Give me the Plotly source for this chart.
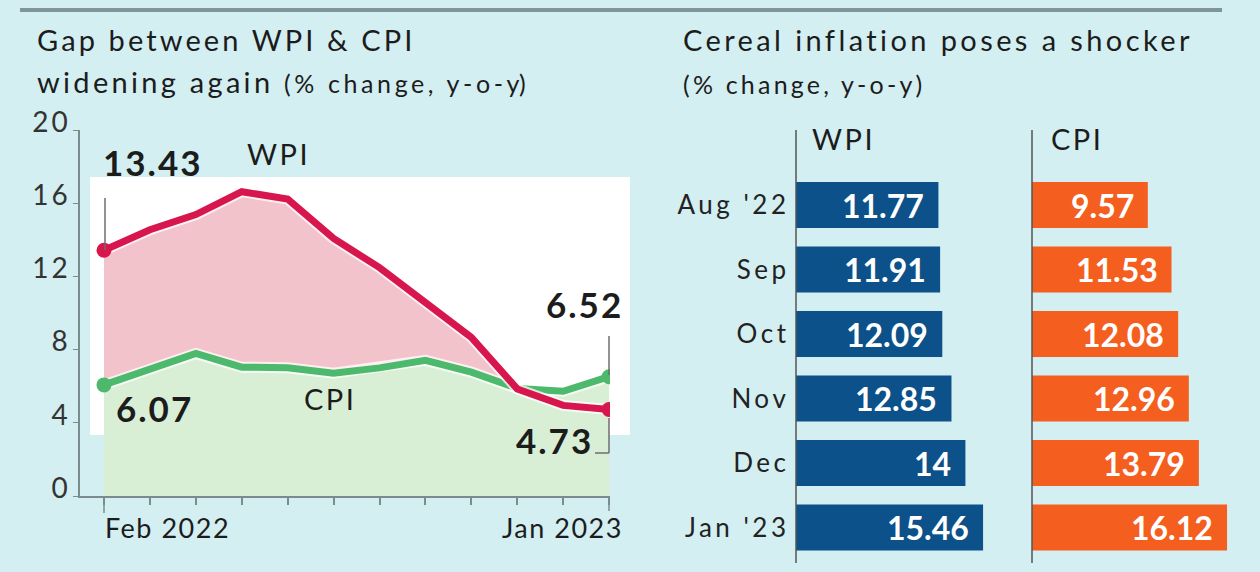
import plotly.graph_objects as go

# ---------------- data ----------------
months = ["Feb 2022", "Mar 2022", "Apr 2022", "May 2022", "Jun 2022", "Jul 2022",
          "Aug 2022", "Sep 2022", "Oct 2022", "Nov 2022", "Dec 2022", "Jan 2023"]
wpi = [13.43, 14.55, 15.38, 16.63, 16.23, 14.07, 12.48, 10.55, 8.67, 5.85, 4.95, 4.73]
cpi = [6.07, 6.95, 7.79, 7.04, 7.01, 6.71, 7.00, 7.41, 6.77, 5.88, 5.72, 6.52]
y_ticks = [0, 4, 8, 12, 16, 20]

bar_cats = ["Aug '22", "Sep", "Oct", "Nov", "Dec", "Jan '23"]
cereal_wpi = [11.77, 11.91, 12.09, 12.85, 14.00, 15.46]
cereal_cpi = [9.57, 11.53, 12.08, 12.96, 13.79, 16.12]
cereal_wpi_lbl = ["11.77", "11.91", "12.09", "12.85", "14", "15.46"]
cereal_cpi_lbl = ["9.57", "11.53", "12.08", "12.96", "13.79", "16.12"]

# ---------------- styling ----------------
W, H = 1260, 572
FONT = "Lato"
BG = "#d3eff2"
PINK = "#f2c3cb"
GREEN_FILL = "#d9efd5"
WPI_C = "#d8164e"
CPI_C = "#4cb96c"
NAVY = "#0c5189"
ORANGE = "#f45e1e"
TXT = "#1c1c1c"
AX = "#7a8c8e"


def px(x):
    return x / W


def py(y):
    return 1 - y / H


def sp(text, ls):
    # letter-spacing on every character but the last (no trailing gap)
    return "<span style='letter-spacing:%spx'>%s</span>%s" % (ls, text[:-1], text[-1])


fig = go.Figure()

# left chart: fills
fig.add_trace(go.Scatter(x=months, y=wpi, mode="lines", fill="tozeroy",
                         fillcolor=PINK, line=dict(width=0), hoverinfo="skip",
                         xaxis="x", yaxis="y", showlegend=False))
fig.add_trace(go.Scatter(x=months, y=cpi, mode="lines", fill="tozeroy",
                         fillcolor=GREEN_FILL, line=dict(width=0), hoverinfo="skip",
                         xaxis="x", yaxis="y", showlegend=False))
# lines with light glow
fig.add_trace(go.Scatter(x=months, y=cpi, mode="lines",
                         line=dict(color="rgba(255,255,255,0.75)", width=11),
                         xaxis="x", yaxis="y", showlegend=False, hoverinfo="skip"))
fig.add_trace(go.Scatter(x=months, y=cpi, mode="lines",
                         line=dict(color=CPI_C, width=7),
                         xaxis="x", yaxis="y", showlegend=False, name="CPI"))
fig.add_trace(go.Scatter(x=months, y=wpi, mode="lines",
                         line=dict(color="rgba(255,255,255,0.75)", width=11),
                         xaxis="x", yaxis="y", showlegend=False, hoverinfo="skip"))
fig.add_trace(go.Scatter(x=months, y=wpi, mode="lines",
                         line=dict(color=WPI_C, width=7),
                         xaxis="x", yaxis="y", showlegend=False, name="WPI"))
# end markers
fig.add_trace(go.Scatter(x=[months[0], months[-1]], y=[cpi[0], cpi[-1]], mode="markers",
                         marker=dict(color=CPI_C, size=15),
                         xaxis="x", yaxis="y", showlegend=False))
fig.add_trace(go.Scatter(x=[months[0], months[-1]], y=[wpi[0], wpi[-1]], mode="markers",
                         marker=dict(color=WPI_C, size=15),
                         xaxis="x", yaxis="y", showlegend=False))

# right charts: bars
fig.add_trace(go.Bar(y=bar_cats, x=cereal_wpi, orientation="h", marker=dict(color=NAVY, line=dict(width=0)),
                     xaxis="x2", yaxis="y2", showlegend=False, name="WPI"))
fig.add_trace(go.Bar(y=bar_cats, x=cereal_cpi, orientation="h", marker=dict(color=ORANGE, line=dict(width=0)),
                     xaxis="x3", yaxis="y3", showlegend=False, name="CPI"))


def ann(x, y, text, size, xanchor="center", color=TXT):
    return dict(x=px(x), y=py(y), xref="paper", yref="paper", xanchor=xanchor, yanchor="middle",
                text=text, showarrow=False, font=dict(family=FONT, size=size, color=color))


annotations = [
    ann(35, 40, sp("Gap between WPI &amp; CPI", 3.1), 29, "left"),
    ann(35, 81, "<span style='letter-spacing:3.3px'>widening again </span>"
                + "<span style='font-size:25px;letter-spacing:3.6px'>(% change, y-o-</span>"
                + "<span style='font-size:25px'>y)</span>", 29, "left"),
    ann(681, 40, sp("Cereal inflation poses a shocker", 3.4), 29, "left"),
    ann(681, 84, sp("(% change, y-o-y)", 3.2), 25, "left"),
    # left chart labels
    ann(152, 162, "<b>" + sp("%.2f" % wpi[0], 2) + "</b>", 35),
    ann(277, 153, sp("WPI", 2.5), 29),
    ann(329, 398, sp("CPI", 2.5), 29),
    ann(153, 408, "<b>" + sp("%.2f" % cpi[0], 2) + "</b>", 35),
    ann(583, 304, "<b>" + sp("%.2f" % cpi[-1], 2) + "</b>", 35),
    ann(553, 440, "<b>" + sp("%.2f" % wpi[-1], 2) + "</b>", 35),
    ann(103, 527, sp(months[0], 1.5), 27, "left"),
    ann(623, 527, sp(months[-1], 1.5), 27, "right"),
    # bar headers
    ann(843, 138, sp("WPI", 2.5), 29),
    ann(1076, 138, sp("CPI", 2.5), 29),
]
# bar value labels
for c, v, t in zip(bar_cats, cereal_wpi, cereal_wpi_lbl):
    annotations.append(dict(x=v, y=c, xref="x2", yref="y2", xanchor="right", yanchor="middle", xshift=-12,
                            text="<b>%s</b>" % t, showarrow=False, font=dict(family=FONT, size=32, color="white")))
for c, v, t in zip(bar_cats, cereal_cpi, cereal_cpi_lbl):
    annotations.append(dict(x=v, y=c, xref="x3", yref="y3", xanchor="right", yanchor="middle", xshift=-12,
                            text="<b>%s</b>" % t, showarrow=False, font=dict(family=FONT, size=32, color="white")))

LEAD = "#6e6e6e"
shapes = [
    # top rule
    dict(type="line", xref="paper", yref="paper", x0=px(20), x1=px(1222), y0=py(10), y1=py(10),
         line=dict(color="#7f9598", width=4)),
    # white panel
    dict(type="rect", xref="paper", yref="paper", x0=px(90), x1=px(630), y0=py(435), y1=py(177),
         fillcolor="white", line=dict(width=0), layer="below"),
    # leader lines
    dict(type="line", xref="paper", yref="paper", x0=px(105), x1=px(105), y0=py(198), y1=py(250),
         line=dict(color=LEAD, width=1.5)),
    dict(type="line", xref="paper", yref="paper", x0=px(609), x1=px(609), y0=py(336), y1=py(375),
         line=dict(color=LEAD, width=1.5)),
    dict(type="line", xref="paper", yref="paper", x0=px(609), x1=px(609), y0=py(418), y1=py(453),
         line=dict(color=LEAD, width=1.5)),
    dict(type="line", xref="paper", yref="paper", x0=px(595), x1=px(609), y0=py(453), y1=py(453),
         line=dict(color=LEAD, width=1.5)),
    # longer end ticks
    dict(type="line", xref="paper", yref="paper", x0=px(104), x1=px(104), y0=py(496), y1=py(513),
         line=dict(color=AX, width=1.5)),
    dict(type="line", xref="paper", yref="paper", x0=px(609), x1=px(609), y0=py(496), y1=py(511),
         line=dict(color=AX, width=1.5)),
    # bar axis lines
    dict(type="line", xref="paper", yref="paper", x0=px(796), x1=px(796), y0=py(130), y1=py(563),
         line=dict(color="#555", width=1.5)),
    dict(type="line", xref="paper", yref="paper", x0=px(1032), x1=px(1032), y0=py(130), y1=py(563),
         line=dict(color="#555", width=1.5)),
]

fig.update_layout(
    width=W, height=H,
    margin=dict(l=0, r=0, t=0, b=0, pad=0, autoexpand=False),
    paper_bgcolor=BG, plot_bgcolor="rgba(0,0,0,0)",
    font=dict(family=FONT, color=TXT),
    showlegend=False,
    bargap=0.29,
    annotations=annotations,
    shapes=shapes,
    xaxis=dict(domain=[px(80), px(610)], type="category", categoryorder="array", categoryarray=months,
               range=[-0.523, 11.02], showgrid=False, zeroline=False, showline=True, linecolor=AX, linewidth=1.5,
               ticks="outside", ticklen=7, tickcolor=AX, tickwidth=1.5, showticklabels=False,
               automargin=False, fixedrange=True),
    yaxis=dict(domain=[py(496), py(130)], range=[0, 20], tickvals=y_ticks,
               ticktext=[sp(str(v), 3) if len(str(v)) > 1 else str(v) for v in y_ticks],
               showgrid=False, zeroline=False,
               showline=True, linecolor=AX, linewidth=1.5, ticks="outside", ticklen=5, tickcolor=AX,
               tickfont=dict(family=FONT, size=28, color="#333"), ticklabelshift=-8,
               automargin=False, fixedrange=True),
    xaxis2=dict(domain=[px(796), px(1000)], range=[0, 204 / 12.1], visible=False,
                automargin=False, fixedrange=True),
    yaxis2=dict(domain=[py(559.75), py(172.75)], anchor="x2", autorange="reversed", showgrid=False,
                zeroline=False, showline=False, ticks="", ticklabelstandoff=9,
                tickvals=bar_cats, ticktext=[sp(c, 3.5) for c in bar_cats],
                tickfont=dict(family=FONT, size=26, color="#222"), automargin=False, fixedrange=True),
    xaxis3=dict(domain=[px(1032), px(1250)], range=[0, 218 / 12.1], visible=False,
                automargin=False, fixedrange=True),
    yaxis3=dict(domain=[py(559.75), py(172.75)], anchor="x3", autorange="reversed", showgrid=False,
                zeroline=False, showline=False, showticklabels=False, automargin=False, fixedrange=True),
)

fig.write_html("out.html", config={"displayModeBar": False},
               post_script="document.documentElement.style.overflow='hidden';"
                           "document.body.style.margin='0';document.body.style.overflow='hidden';")
